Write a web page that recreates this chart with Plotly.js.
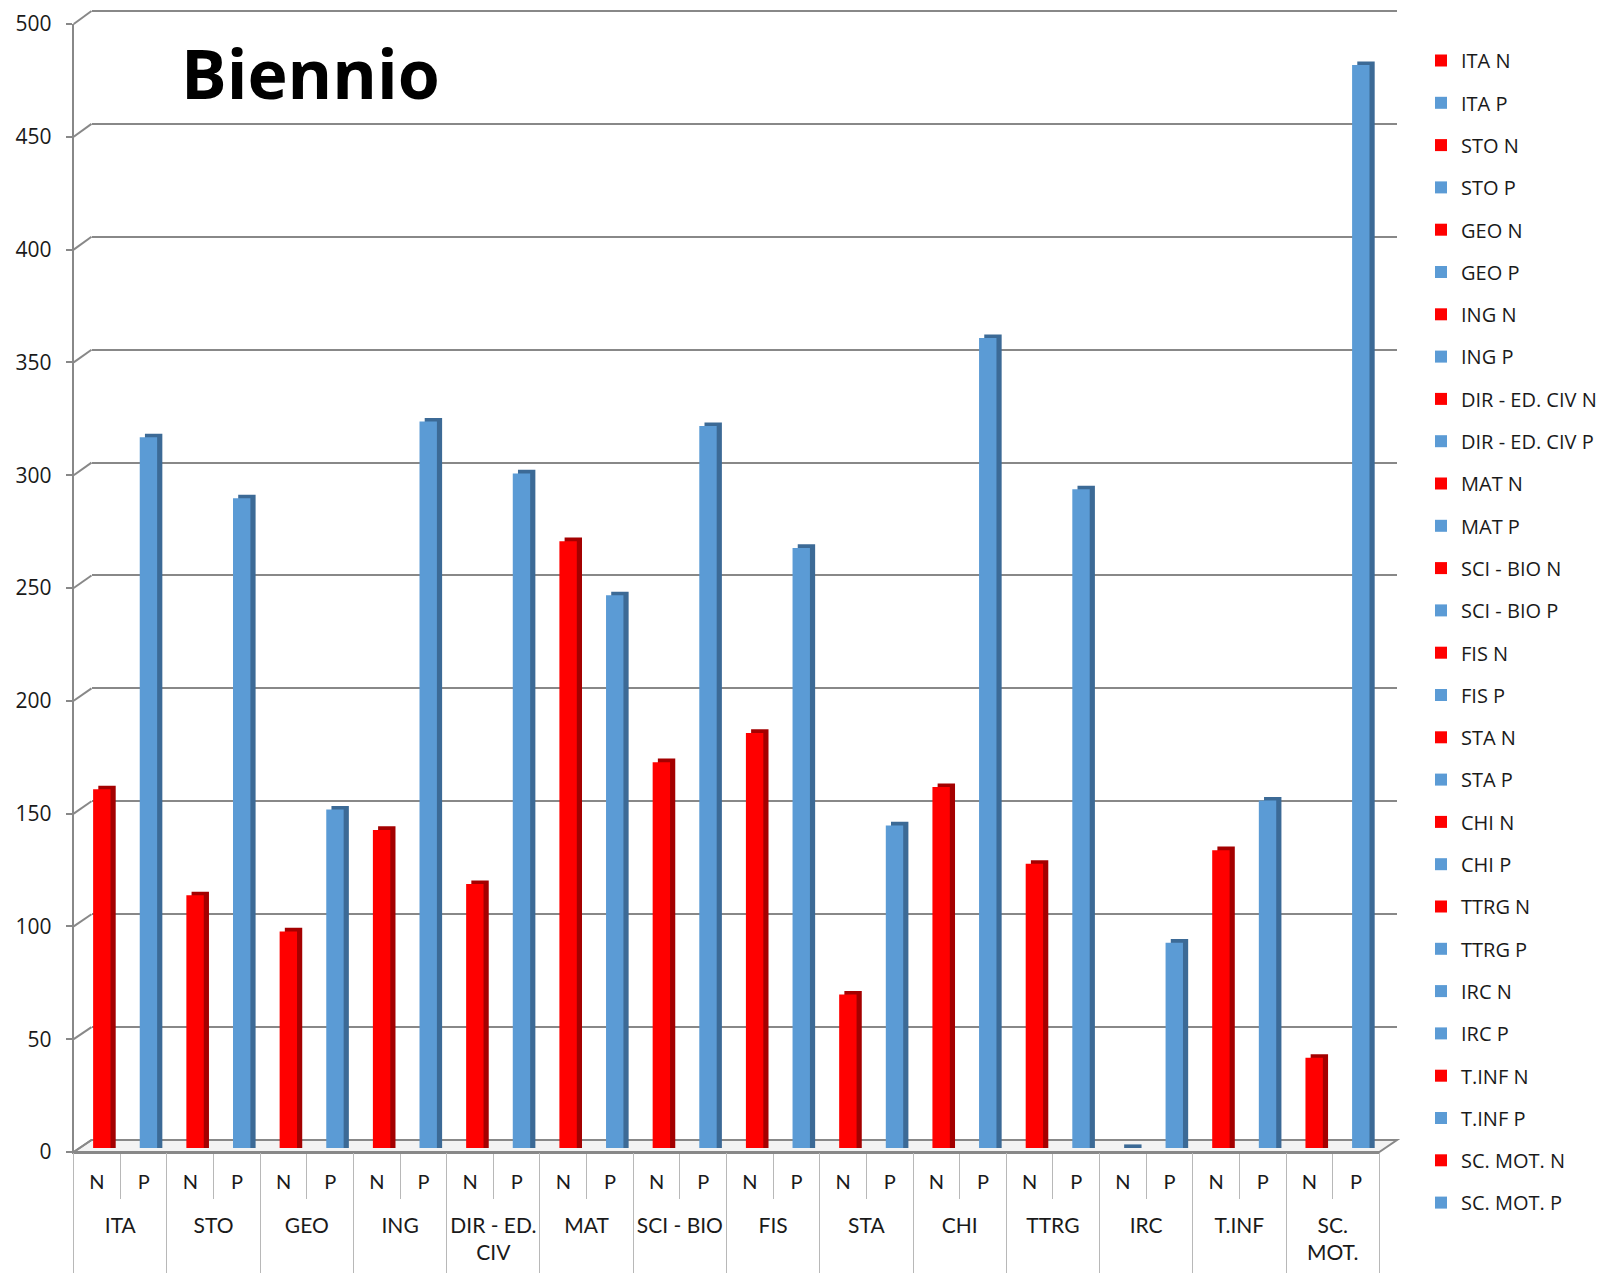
<!DOCTYPE html>
<html><head><meta charset="utf-8">
<script src="https://cdn.plot.ly/plotly-3.0.1.min.js"></script>
<style>html,body{margin:0;padding:0;background:#fff}</style>
</head><body><div id="chart" style="width:1604px;height:1280px"></div>
<script>
// ---------------- DATA ----------------
const subjects = ['ITA','STO','GEO','ING','DIR - ED. CIV','MAT','SCI - BIO','FIS','STA','CHI','TTRG','IRC','T.INF','SC. MOT.'];
const subjectTickLabels = ['ITA','STO','GEO','ING','DIR - ED.<br>CIV','MAT','SCI - BIO','FIS','STA','CHI','TTRG','IRC','T.INF','SC.<br>MOT.'];
const kinds = ['N','P'];
const valuesN = [159,112,96,141,117,269,171,184,68,160,126,0,132,40];
const valuesP = [315,288,150,322,299,245,320,266,143,359,292,91,154,480];
const yTicks = [0,50,100,150,200,250,300,350,400,450,500];
const chartTitle = 'Biennio';

// ---------------- STYLE / GEOMETRY ----------------
const W = 1604, H = 1280;
const X = px => px / W;
const Y = py => 1 - py / H;
const RED = '#FF0000', RED_SIDE = '#A40000';
const BLUE = '#5B9BD5', BLUE_SIDE = '#3C6A96';
const blueNSubjects = ['IRC'];
const GRID = '#888888';
const DIV = '#b8b8b8';

// planes (pixel coordinates on the page)
const front = {x0: 73.7, x1: 1379.3, y0: 1152, y1: 24};   // tick labels / floor front edge
const back  = {x0: 91.5, x1: 1397,   y0: 1140, y1: 11};   // back wall gridlines
const mid   = {x0: 78.5, x1: 1384.1, y0: 1148, y1: 20};   // bars
const yMax = 500;
const backPad = 3;   // units of headroom so the top gridline is not clipped
const backPxPerUnit = (back.y0 - back.y1) / yMax;
const nSlots = subjects.length * kinds.length;
const slotPx = (mid.x1 - mid.x0) / nSlots;
const barW = 17.4 / slotPx;
const sideShift = 5.2 / slotPx;
const depthUnits = 3.6 / ((mid.y0 - mid.y1) / yMax);

// ---------------- TRACES ----------------
const idx = [], vals = [], names = [], faceColors = [], sideColors = [], npLabels = [];
subjects.forEach((s, g) => {
  kinds.forEach((k, j) => {
    const v = (k === 'N' ? valuesN : valuesP)[g];
    const isBlue = k === 'P' || blueNSubjects.includes(s);
    idx.push(g * 2 + j);
    vals.push(v);
    names.push(s + ' ' + k);
    npLabels.push(k);
    faceColors.push(isBlue ? BLUE : RED);
    sideColors.push(isBlue ? BLUE_SIDE : RED_SIDE);
  });
});

const traces = [];
// invisible anchors so that the decoration subplots get drawn
const anchor = (xa, ya, x, y) => ({
  type: 'scatter', mode: 'markers', xaxis: xa, yaxis: ya, x: [x], y: [y],
  marker: {size: 1, opacity: 0}, showlegend: false, hoverinfo: 'skip'
});
traces.push(anchor('x', 'y', 0.5, 0));
traces.push(anchor('x3', 'y3', 0, 0));
traces.push(anchor('x4', 'y3', 0, 0));
// depth (side + top) boxes drawn behind front faces
traces.push({
  type: 'bar', xaxis: 'x2', yaxis: 'y2',
  x: idx.map(i => i + sideShift),
  y: vals.map(v => v + depthUnits),
  width: barW,
  marker: {color: sideColors, line: {width: 0}},
  showlegend: false, hoverinfo: 'skip'
});
idx.forEach((i, n) => {
  traces.push({
    type: 'bar', xaxis: 'x2', yaxis: 'y2',
    x: [i], y: [vals[n]], width: barW,
    name: names[n], legendgroup: names[n],
    marker: {color: faceColors[n], line: {width: 0}},
    hoverinfo: 'skip'
  });
});

// ---------------- SHAPES ----------------
const shapes = [];
// floor
shapes.push({
  type: 'path', xref: 'paper', yref: 'paper', layer: 'below',
  path: `M${X(front.x0)},${Y(front.y0)} L${X(back.x0)},${Y(back.y0)} L${X(back.x1)},${Y(back.y0)} L${X(front.x1)},${Y(front.y0)} Z`,
  fillcolor: '#f3f3f3', line: {color: GRID, width: 2}
});
// left-wall connectors from front ticks to back gridlines
yTicks.forEach(v => {
  const fy = front.y0 + (front.y1 - front.y0) * v / yMax;
  const by = back.y0 + (back.y1 - back.y0) * v / yMax;
  shapes.push({
    type: 'line', xref: 'paper', yref: 'paper', layer: 'below',
    x0: X(front.x0), y0: Y(fy), x1: X(back.x0), y1: Y(by),
    line: {color: GRID, width: 2}
  });
});

// ---------------- LAYOUT ----------------
const slotBounds = Array.from({length: nSlots + 1}, (_, i) => i - 0.5);
const groupBounds = Array.from({length: subjects.length + 1}, (_, g) => g * 2 - 0.5);
const groupCenters = subjects.map((_, g) => g * 2 + 0.5);

const layout = {
  width: W, height: H,
  margin: {l: 0, r: 0, t: 0, b: 0},
  paper_bgcolor: '#ffffff', plot_bgcolor: 'rgba(0,0,0,0)',
  barmode: 'overlay',
  showlegend: true,
  legend: {
    x: X(1421), y: Y(41), xanchor: 'left', yanchor: 'top',
    font: {family: 'Open Sans, sans-serif', size: 20, color: '#1a1a1a'},
    bgcolor: 'rgba(0,0,0,0)', traceorder: 'grouped', tracegroupgap: 13.3,
    itemclick: false, itemdoubleclick: false
  },
  // back wall (gridlines)
  xaxis: {domain: [X(back.x0), X(back.x1)], range: [0, 1], anchor: 'y',
          showgrid: false, zeroline: false, showline: false, showticklabels: false, ticks: ''},
  yaxis: {domain: [Y(back.y0), Y(back.y1 - backPad * backPxPerUnit)], range: [0, yMax + backPad], anchor: 'x',
          tickmode: 'array', tickvals: yTicks, showgrid: true, gridcolor: GRID, gridwidth: 2,
          zeroline: false, showline: false, showticklabels: false, ticks: ''},
  // bars plane
  xaxis2: {domain: [X(mid.x0), X(mid.x1)], range: [-0.5, nSlots - 0.5], anchor: 'y2', visible: false},
  yaxis2: {domain: [Y(mid.y0), Y(mid.y1)], range: [0, yMax], anchor: 'x2', visible: false},
  // front plane: N/P labels
  xaxis3: {domain: [X(front.x0), X(front.x1)], range: [-0.5, nSlots - 0.5], anchor: 'y3',
           tickmode: 'array', tickvals: idx, ticktext: npLabels, ticks: '',
           showgrid: false, zeroline: false, showline: true, linecolor: GRID, linewidth: 2,
           ticklabelstandoff: 11,
           tickfont: {family: 'Lato, sans-serif', size: 20, color: '#1a1a1a'},
           minor: {ticks: 'outside', tickmode: 'array', tickvals: slotBounds, ticklen: 45,
                   tickcolor: DIV, tickwidth: 1, showgrid: false}},
  yaxis3: {domain: [Y(front.y0), Y(front.y1)], range: [0, yMax], anchor: 'x3',
           tickmode: 'array', tickvals: yTicks, ticks: 'outside', ticklen: 6, tickcolor: GRID, tickwidth: 2,
           showgrid: false, zeroline: false, showline: true, linecolor: GRID, linewidth: 2,
           ticklabelstandoff: 10,
           tickfont: {family: 'Open Sans, sans-serif', size: 21, color: '#1a1a1a'}},
  // front plane: subject labels
  xaxis4: {domain: [X(front.x0), X(front.x1)], range: [-0.5, nSlots - 0.5], anchor: 'y3',
           tickmode: 'array', tickvals: groupCenters, ticktext: subjectTickLabels, ticks: '',
           showgrid: false, zeroline: false, showline: false,
           ticklabelstandoff: 59,
           tickfont: {family: 'Lato, sans-serif', size: 21, color: '#1a1a1a'},
           minor: {ticks: 'outside', tickmode: 'array', tickvals: groupBounds, ticklen: 120,
                   tickcolor: DIV, tickwidth: 1, showgrid: false}},
  shapes: shapes,
  annotations: [{
    text: '<b>' + chartTitle + '</b>', xref: 'paper', yref: 'paper',
    x: X(310), y: Y(72), xanchor: 'center', yanchor: 'middle', showarrow: false,
    font: {family: 'Open Sans, sans-serif', size: 68, color: '#000'}
  }]
};

Plotly.newPlot('chart', traces, layout, {staticPlot: true, displayModeBar: false});
</script>
</body></html>
